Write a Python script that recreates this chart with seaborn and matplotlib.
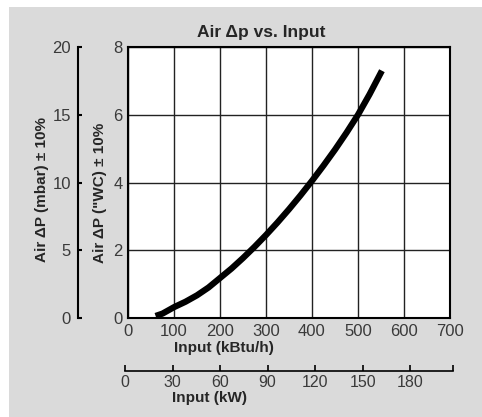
import numpy as np
import pandas as pd
import matplotlib
matplotlib.use('Agg')
import matplotlib.pyplot as plt
from matplotlib.patches import Rectangle
import seaborn as sns

sns.set_style('white')
plt.rcParams['font.family'] = ['Liberation Sans', 'DejaVu Sans']

# curve
input_kbtu = [60, 75, 100, 125, 150, 175, 200, 225, 250, 275, 300, 325, 350,
              375, 400, 425, 450, 475, 500, 525, 552]
dp_wc = [0.06, 0.13, 0.32, 0.48, 0.67, 0.90, 1.18, 1.46, 1.77, 2.10, 2.45, 2.82,
         3.21, 3.62, 4.05, 4.50, 4.97, 5.47, 6.00, 6.60, 7.30]

kbtu_ticks = [0, 100, 200, 300, 400, 500, 600, 700]
wc_ticks = [0, 2, 4, 6, 8]
mbar_ticks = [0, 5, 10, 15, 20]
kw_ticks = [0, 30, 60, 90, 120, 150, 180, 207]
kw_labels = ['0', '30', '60', '90', '120', '150', '180', '']

df = pd.DataFrame({'kbtu': input_kbtu, 'wc': dp_wc})

W, H = 482, 417
fx = lambda px: px / W
fy = lambda py: 1 - py / H
tick_col = '#3a3a3a'

fig = plt.figure(figsize=(W / 100, H / 100), dpi=100)
fig.patch.set_facecolor('white')
fig.patches.append(Rectangle((fx(9), 0), 1 - fx(9), fy(7), transform=fig.transFigure,
                             facecolor='#dadada', edgecolor='none', zorder=-10))

# main chart
ax = fig.add_axes([fx(128), fy(318), (450 - 128) / W, (318 - 47) / H])
ax.set_facecolor('white')
sns.lineplot(data=df, x='kbtu', y='wc', ax=ax, color='black', lw=4.5,
             solid_capstyle='butt', zorder=5)
ax.set_xlim(0, 700)
ax.set_ylim(0, 8)
ax.set_xticks(kbtu_ticks)
ax.set_yticks(wc_ticks)
ax.grid(True, color='#222222', lw=1)
ax.tick_params(length=0, labelsize=12, colors=tick_col, pad=4)
for s in ax.spines.values():
    s.set_visible(True)
    s.set_color('black')
    s.set_linewidth(1.5)
ax.set_xlabel('')
ax.set_ylabel('')

# mbar axis on the left
axm = fig.add_axes([fx(78), fy(318), 0.0001, (318 - 47) / H])
axm.patch.set_visible(False)
for k in ['top', 'right', 'bottom']:
    axm.spines[k].set_visible(False)
axm.spines['left'].set_linewidth(1.5)
axm.spines['left'].set_color('black')
axm.set_ylim(0, 20)
axm.set_yticks(mbar_ticks)
axm.set_xticks([])
axm.tick_params(axis='y', left=True, direction='in', length=3, width=1.5,
                color='black', labelsize=12, labelcolor=tick_col, pad=5)

# kW axis at the bottom
axk = fig.add_axes([fx(125), fy(371), (453 - 125) / W, 0.0001])
axk.patch.set_visible(False)
for k in ['top', 'right', 'left']:
    axk.spines[k].set_visible(False)
axk.spines['bottom'].set_linewidth(1.2)
axk.spines['bottom'].set_color('black')
axk.set_xlim(0, 207)
axk.set_xticks(kw_ticks)
axk.set_xticklabels(kw_labels)
axk.set_yticks([])
axk.tick_params(axis='x', bottom=True, direction='in', length=4, width=1.2,
                color='black', labelsize=11.5, labelcolor=tick_col, pad=3)

# texts
fig.text(fx(261), fy(32), 'Air Δp vs. Input', ha='center', va='center',
         fontsize=12.5, fontweight='bold')
fig.text(fx(224), fy(348), 'Input (kBtu/h)', ha='center', va='center',
         fontsize=11, fontweight='bold')
fig.text(fx(210), fy(398), 'Input (kW)', ha='center', va='center',
         fontsize=11, fontweight='bold')
fig.text(fx(100), fy(193), 'Air ΔP ("WC) ± 10%', ha='center', va='center',
         rotation=90, fontsize=11, fontweight='bold')
fig.text(fx(42), fy(190), 'Air ΔP (mbar) ± 10%', ha='center', va='center',
         rotation=90, fontsize=11, fontweight='bold')

fig.savefig('out.png', dpi=100)
